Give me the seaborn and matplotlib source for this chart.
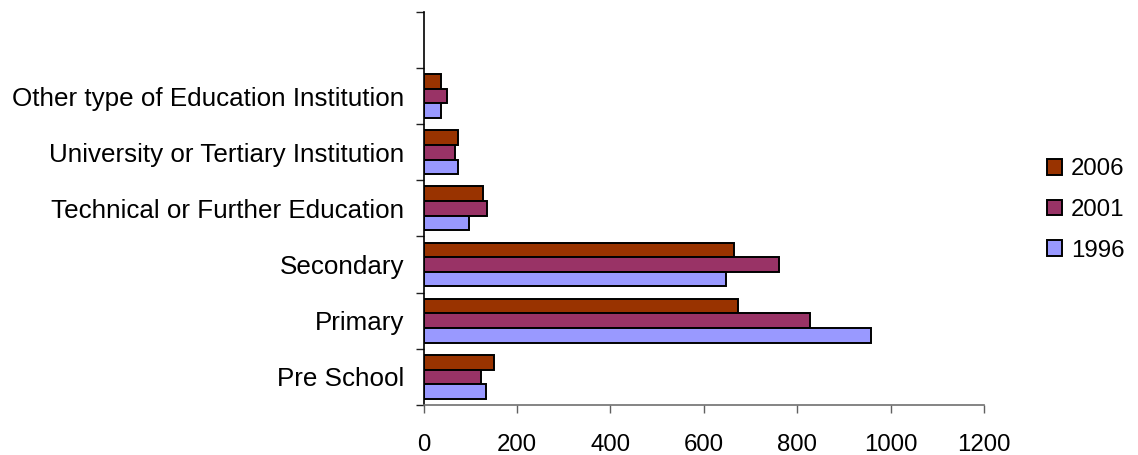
import matplotlib
matplotlib.use("Agg")
import matplotlib.pyplot as plt
import seaborn as sns
import pandas as pd
from matplotlib.patches import Patch

categories = ["Other type of Education Institution", "University or Tertiary Institution",
              "Technical or Further Education", "Secondary", "Primary", "Pre School"]
years = ["2006", "2001", "1996"]
v2006 = [38, 73, 127, 665, 674, 150]
v2001 = [51, 67, 136, 762, 828, 123]
v1996 = [38, 73, 97, 647, 959, 133]
colors = {"2006": "#993300", "2001": "#993366", "1996": "#9999FF"}
xticks = [0, 200, 400, 600, 800, 1000, 1200]

rows = []
for yr, vals in zip(years, [v2006, v2001, v1996]):
    for c, v in zip(categories, vals):
        rows.append({"category": c, "year": yr, "value": v})
df = pd.DataFrame(rows)

sns.set_style("white")
plt.rcParams['font.family'] = ['Liberation Sans', 'DejaVu Sans']
plt.rcParams['text.color'] = 'black'
plt.rcParams['xtick.labelcolor'] = 'black'
plt.rcParams['ytick.labelcolor'] = 'black'

FS_CAT = 18.7
FS_NUM = 17.3

fig = plt.figure(figsize=(11.38, 4.55), dpi=100)
ax = fig.add_axes([0.3722, 0.110, 0.8647 - 0.3722, 0.974 - 0.110])

order = [" "] + categories
sns.barplot(data=df, x="value", y="category", hue="year", order=order,
            hue_order=years, palette=colors, orient="h", width=0.78, saturation=1,
            edgecolor="black", linewidth=1.4, ax=ax, legend=False, errorbar=None)

ax.set_xlim(0, 1200)
ax.set_ylim(6.5, -0.5)
ax.set_xticks(xticks)
ax.set_xticklabels([str(t) for t in xticks], fontsize=FS_NUM)
ax.set_yticks(range(len(order)))
ax.set_yticklabels([""] + categories, fontsize=FS_CAT)
ax.set_yticks([i - 0.5 for i in range(len(order) + 1)], minor=True)
ax.tick_params(axis="y", which="major", length=0, pad=14)
ax.tick_params(axis="y", which="minor", length=6, width=1, color="#202020", left=True)
ax.tick_params(axis="x", which="major", length=6, width=1, color="#606060", pad=15, bottom=True)
ax.set_xlabel("")
ax.set_ylabel("")
for s in ["top", "right"]:
    ax.spines[s].set_visible(False)
ax.spines["left"].set_color("#000000")
ax.spines["left"].set_linewidth(1.2)
ax.spines["bottom"].set_color("#707070")
ax.spines["bottom"].set_linewidth(1.2)

handles = [Patch(facecolor=colors[y], edgecolor="black", linewidth=1.4, label=y) for y in years]
fig.legend(handles=handles, loc="center left", bbox_to_anchor=(0.920, 0.5385), frameon=False,
           fontsize=FS_NUM, handlelength=0.62, handleheight=0.62, handletextpad=0.38,
           labelspacing=0.78, borderpad=0, borderaxespad=0)

fig.savefig("out.png", dpi=100)
